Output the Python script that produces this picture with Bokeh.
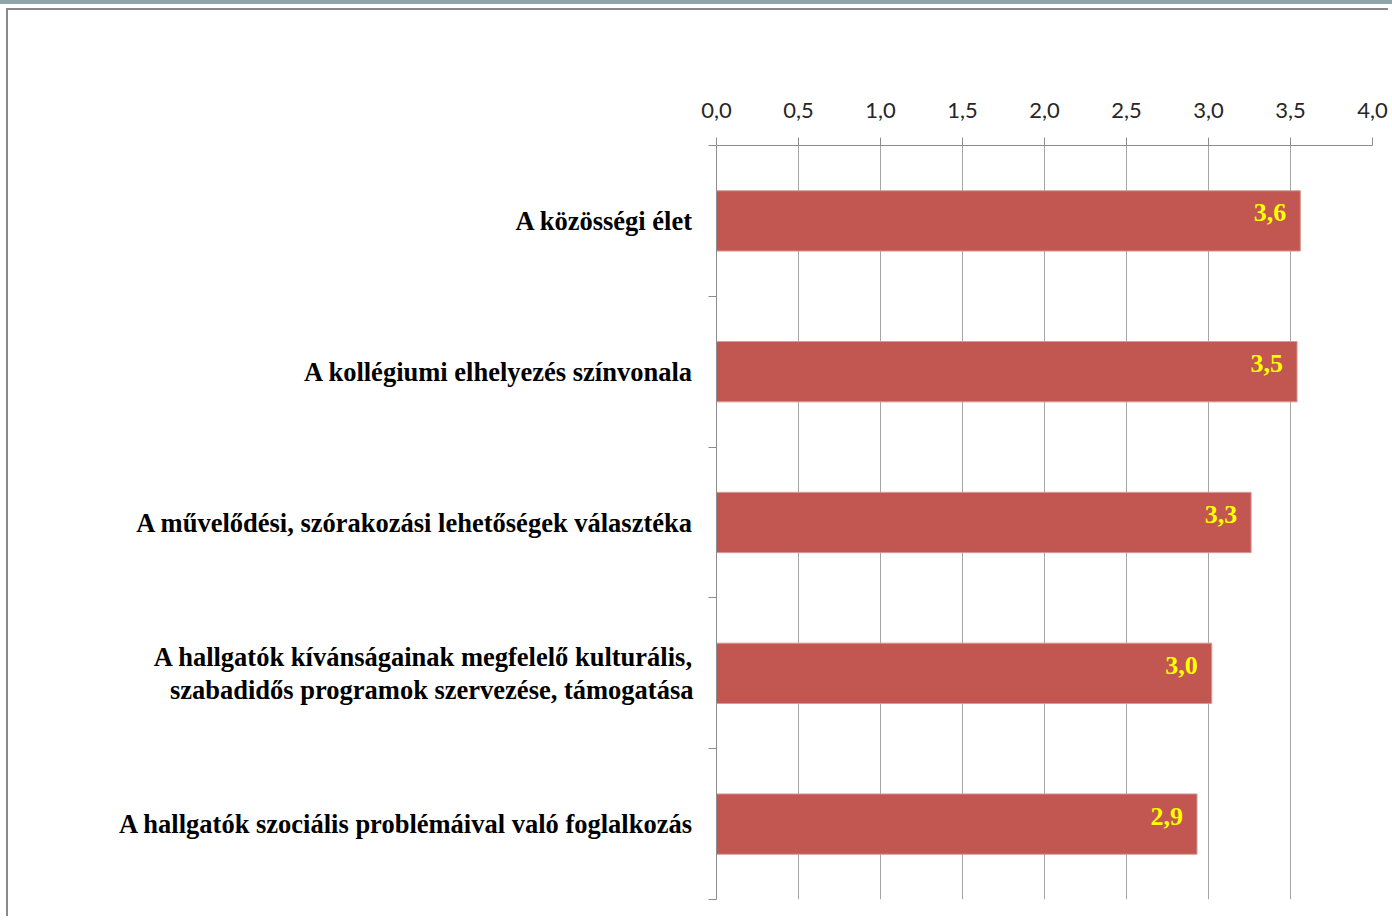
from bokeh.plotting import figure
from bokeh.models import ColumnDataSource, FixedTicker, Range1d
from bokeh.core.properties import value
from bokeh.embed import file_html
from bokeh.resources import INLINE

categories = [
    "A közösségi élet",
    "A kollégiumi elhelyezés színvonala",
    "A művelődési, szórakozási lehetőségek választéka",
    "A hallgatók kívánságainak megfelelő kulturális,\nszabadidős programok szervezése, támogatása",
    "A hallgatók szociális problémáival való foglalkozás",
]
values = [3.56, 3.54, 3.26, 3.02, 2.93]
x_ticks = [0.0, 0.5, 1.0, 1.5, 2.0, 2.5, 3.0, 3.5, 4.0]

n = len(categories)
ypos = [i + 0.5 for i in range(n)]
labels = [f"{v:.1f}".replace(".", ",") for v in values]

src = ColumnDataSource(dict(y=ypos, v=values, lab=labels))

W, H = 1382, 908
p = figure(width=W, height=H, output_backend="svg", toolbar_location=None,
           x_range=Range1d(0, 4), y_range=Range1d(n, 0),
           x_axis_location="above",
           min_border_left=708, min_border_right=W - 1364,
           min_border_top=135, min_border_bottom=H - 889)
p.styles = {
    "margin-left": "6px",
    "margin-top": "8px",
    "border-top": "2px solid #8a8a8a",
    "border-left": "2px solid #8a8a8a",
    "box-shadow": "0 4px 0 8px #ffffff, 0 0 0 8px #8BA5A8",
}
p.outline_line_color = None
p.background_fill_color = "white"
p.border_fill_color = "white"

p.hbar(y="y", right="v", left=0, height=0.4, source=src,
       fill_color="#C25651", line_color="#D89A98", line_width=1)

p.text(x="v", y="y", text="lab", source=src, x_offset=-14, y_offset=-8,
       text_align="right", text_baseline="middle",
       text_color="#FFFF00", text_font=value("Liberation Serif"),
       text_font_style="bold", text_font_size="26px")

# x axis (top)
xa = p.xaxis[0]
xa.ticker = FixedTicker(ticks=x_ticks, minor_ticks=[])
xa.major_label_overrides = {t: f"{t:.1f}".replace(".", ",") for t in x_ticks}
xa.major_label_text_font = "Lato"
xa.major_label_text_font_size = "22px"
xa.major_label_text_color = "#262626"
xa.axis_line_color = "#8c8c8c"
xa.major_tick_line_color = "#8c8c8c"
xa.major_tick_out = 8
xa.major_tick_in = 0
xa.minor_tick_line_color = None
xa.major_label_standoff = 20

# y axis (categories)
ya = p.yaxis[0]
ya.ticker = FixedTicker(ticks=ypos, minor_ticks=list(range(n + 1)))
ya.major_label_overrides = {y: c for y, c in zip(ypos, categories)}
ya.major_label_text_font = "Liberation Serif"
ya.major_label_text_font_style = "bold"
ya.major_label_text_font_size = "26.5px"
ya.major_label_text_line_height = 1.1
ya.major_label_text_color = "#000000"
ya.major_label_text_align = "right"
ya.axis_line_color = "#8c8c8c"
ya.major_tick_line_color = None
ya.major_tick_out = 0
ya.major_tick_in = 0
ya.minor_tick_line_color = "#8c8c8c"
ya.minor_tick_out = 8
ya.minor_tick_in = 0
ya.major_label_standoff = 15

p.xgrid.ticker = FixedTicker(ticks=x_ticks)
p.xgrid.grid_line_color = "#a6a6a6"
p.xgrid.grid_line_width = 1
p.ygrid.grid_line_color = None

open("out.html", "w").write(file_html(p, INLINE))
